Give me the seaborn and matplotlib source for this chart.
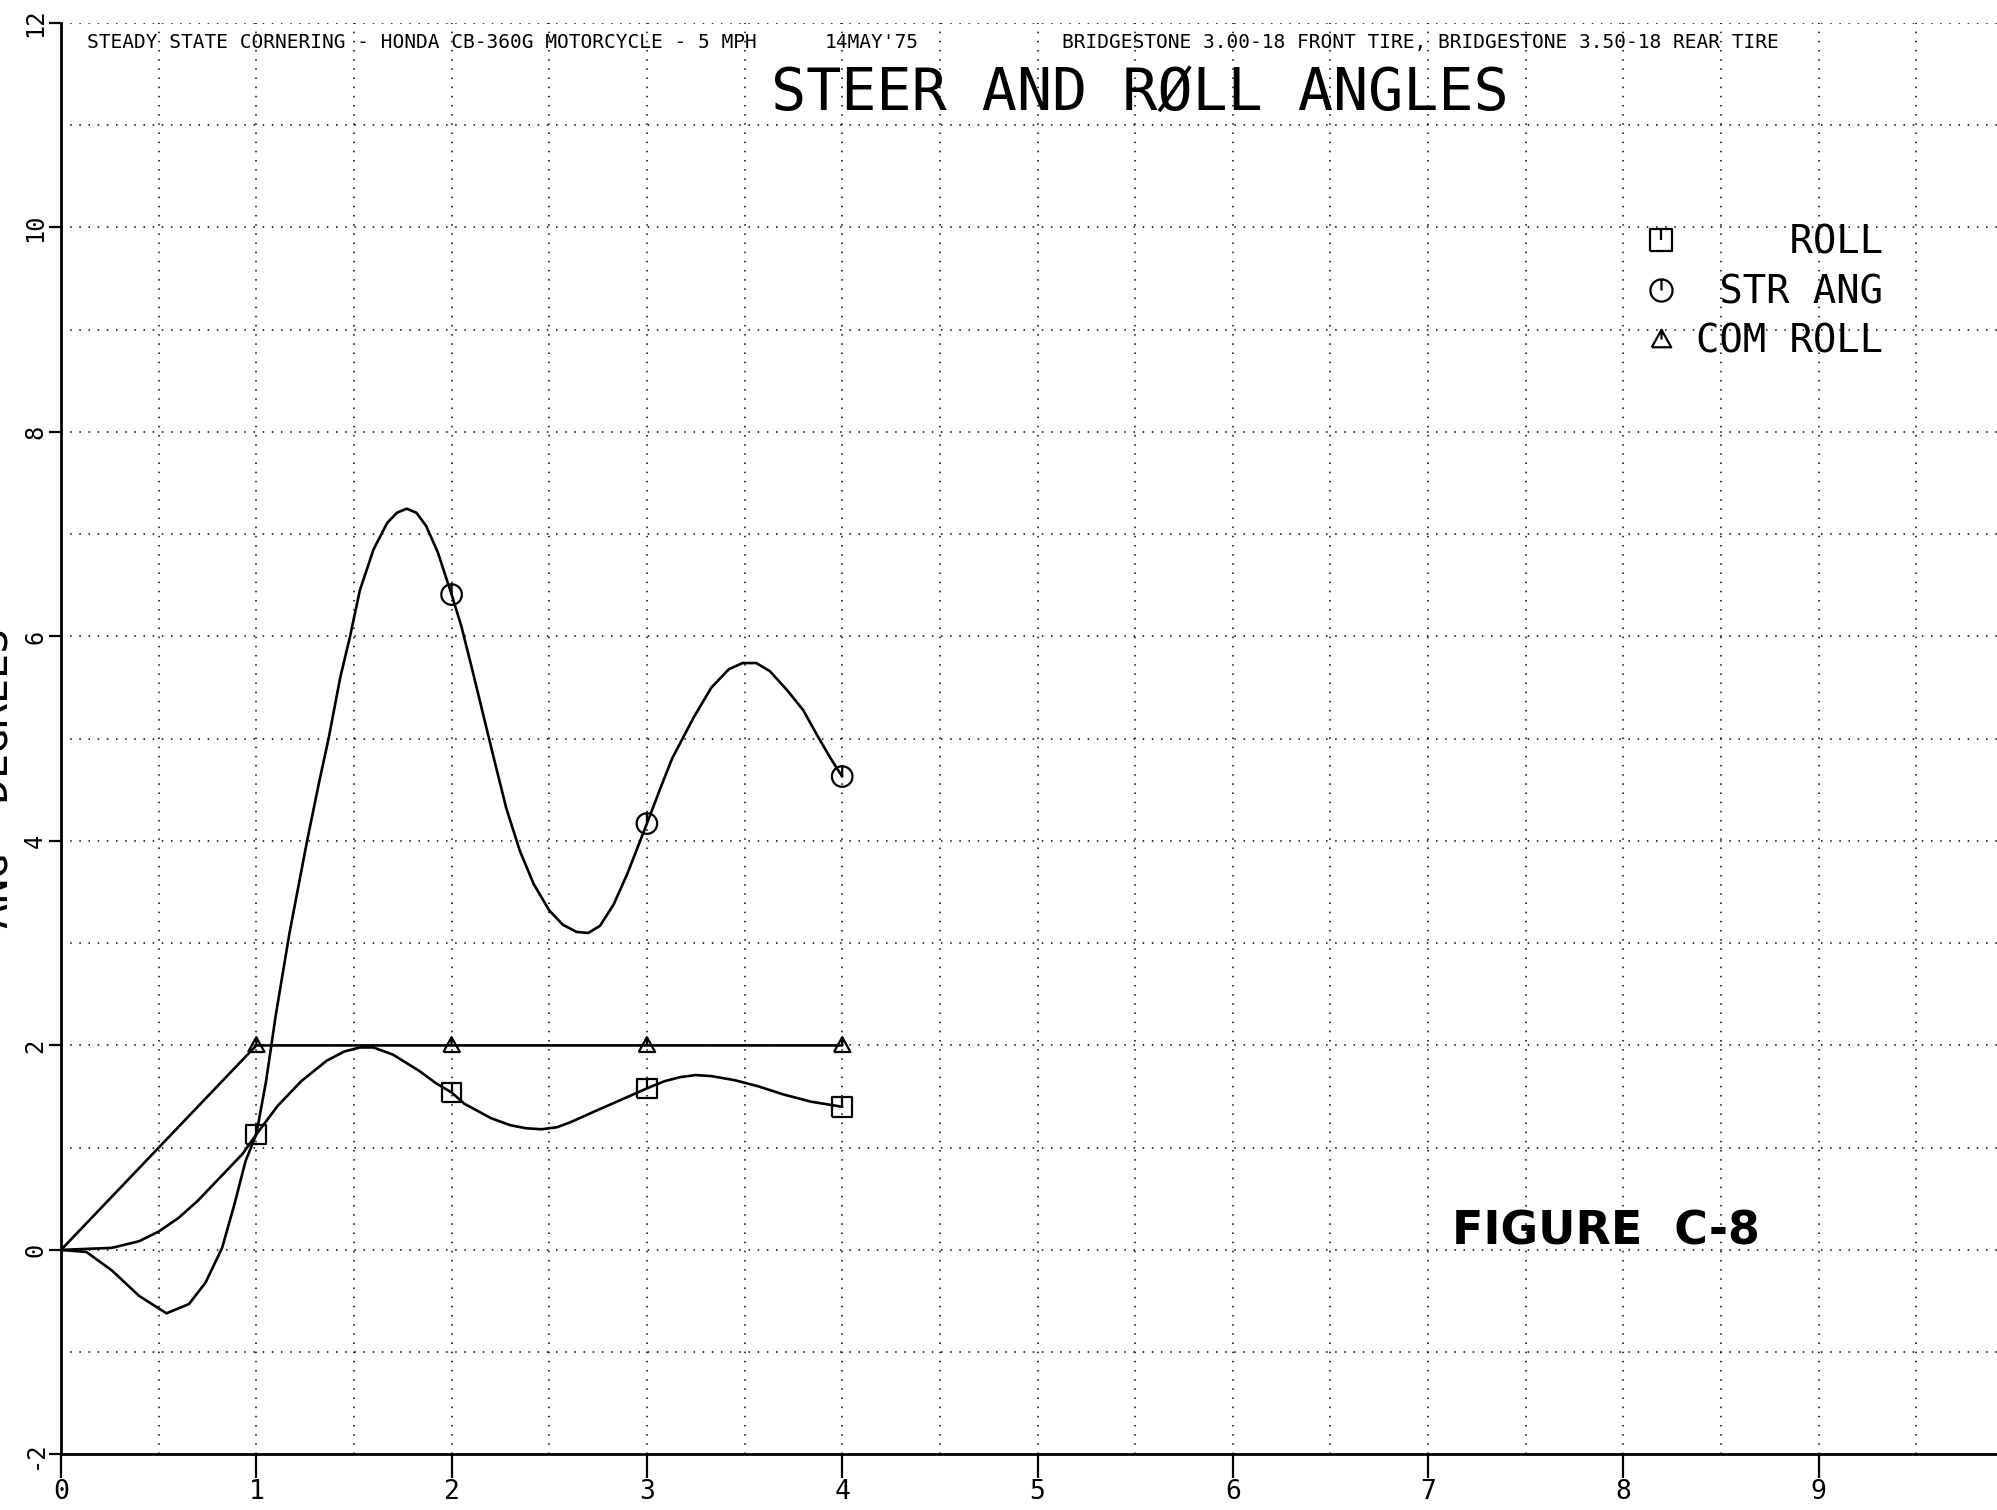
import numpy as np
import pandas as pd
import matplotlib
matplotlib.use("Agg")
import matplotlib.pyplot as plt
from matplotlib.path import Path
from matplotlib.markers import MarkerStyle
from matplotlib.lines import Line2D
import seaborn as sns

# ---------------- data ----------------
str_x = [0.00, 0.13, 0.26, 0.40, 0.54, 0.655, 0.74, 0.825, 0.89, 0.945, 1.00,
         1.05, 1.10, 1.17, 1.22, 1.26, 1.32, 1.37, 1.43, 1.48, 1.53, 1.60, 1.67,
         1.72, 1.77, 1.82, 1.87, 1.93, 2.00, 2.05, 2.10, 2.16, 2.22, 2.28, 2.35,
         2.42, 2.50, 2.57, 2.64, 2.70, 2.76, 2.83, 2.90, 3.00, 3.07, 3.13, 3.24,
         3.33, 3.42, 3.49, 3.56, 3.63, 3.72, 3.80, 3.87, 3.94, 4.00]
str_y = [0.00, -0.02, -0.20, -0.45, -0.62, -0.53, -0.32, 0.02, 0.46, 0.87, 1.13,
         1.65, 2.30, 3.10, 3.60, 4.00, 4.56, 5.00, 5.60, 6.00, 6.45, 6.85, 7.11,
         7.21, 7.25, 7.21, 7.08, 6.82, 6.41, 6.10, 5.72, 5.25, 4.78, 4.32, 3.90,
         3.58, 3.32, 3.18, 3.11, 3.10, 3.17, 3.38, 3.68, 4.17, 4.52, 4.81, 5.21,
         5.50, 5.68, 5.74, 5.74, 5.66, 5.47, 5.28, 5.04, 4.81, 4.63]

roll_x = [0.00, 0.26, 0.40, 0.50, 0.60, 0.70, 0.82, 0.93, 1.00, 1.11, 1.23, 1.36,
          1.45, 1.53, 1.60, 1.70, 1.835, 1.92, 2.00, 2.065, 2.20, 2.30, 2.38,
          2.46, 2.54, 2.61, 2.75, 2.87, 3.00, 3.09, 3.17, 3.25, 3.33, 3.45, 3.57,
          3.70, 3.84, 4.00]
roll_y = [0.00, 0.02, 0.085, 0.18, 0.31, 0.48, 0.72, 0.94, 1.13, 1.41, 1.65, 1.85,
          1.94, 1.98, 1.98, 1.91, 1.75, 1.63, 1.54, 1.43, 1.29, 1.22, 1.19,
          1.18, 1.20, 1.25, 1.37, 1.47, 1.58, 1.65, 1.69, 1.71, 1.70, 1.66, 1.60,
          1.52, 1.45, 1.40]

com_x = [0, 1, 2, 3, 4]
com_y = [0, 2, 2, 2, 2]

roll_mark_x = [1, 2, 3, 4]
roll_mark_y = [1.13, 1.54, 1.58, 1.40]
str_mark_x = [2, 3, 4]
str_mark_y = [6.41, 4.17, 4.63]
com_mark_x = [1, 2, 3, 4]
com_mark_y = [2, 2, 2, 2]

x_ticks = list(range(0, 10))
y_ticks = list(range(-2, 13, 2))
legend_labels = ["    ROLL", " STR ANG", "COM ROLL"]

header_left = "STEADY STATE CORNERING - HONDA CB-360G MOTORCYCLE - 5 MPH"
header_date = "14MAY'75"
header_right = "BRIDGESTONE 3.00-18 FRONT TIRE, BRIDGESTONE 3.50-18 REAR TIRE"
title = "STEER AND RØLL ANGLES"
y_label = "ANG  DEGREES"
figure_note = "FIGURE  C-8"

# ---------------- style ----------------
sns.set_style("ticks")
plt.rcParams["font.family"] = ["DejaVu Sans Mono", "DejaVu Sans"]
plt.rcParams["text.color"] = "black"
plt.rcParams["xtick.color"] = "black"
plt.rcParams["ytick.color"] = "black"
plt.rcParams["axes.edgecolor"] = "black"

# custom plotter-like markers (outline with a tick inside)
def compound(outline):
    verts = list(outline) + [(0.0, 1.0), (0.0, 0.0)]
    codes = [Path.MOVETO] + [Path.LINETO] * (len(outline) - 1) + [Path.MOVETO, Path.LINETO]
    return Path(verts, codes)

sq_path = compound([(-1, -1), (1, -1), (1, 1), (-1, 1), (-1, -1)])
t = np.linspace(0, 2 * np.pi, 33)
circ_path = compound([(np.cos(a), np.sin(a)) for a in t])
tri_path = Path([(-1, -0.8), (1, -0.8), (0, 1.0), (-1, -0.8), (0, 1.0), (0, 0.0)],
                [Path.MOVETO, Path.LINETO, Path.LINETO, Path.LINETO, Path.MOVETO, Path.LINETO])

fig = plt.figure(figsize=(19.97, 15.10), dpi=100)
ax = fig.add_axes([61 / 1997, 55.6 / 1510, 10 * 195.3 / 1997, 1431.4 / 1510])

# curves
line_kw = dict(color="black", linewidth=1.9, estimator=None, sort=False, legend=False)
sns.lineplot(x=com_x, y=com_y, ax=ax, **line_kw)
sns.lineplot(x=roll_x, y=roll_y, ax=ax, **line_kw)
sns.lineplot(x=str_x, y=str_y, ax=ax, **line_kw)

# markers
mk_kw = dict(color="black", facecolors="none", edgecolors="black", linewidths=1.6,
             legend=False, zorder=5)
sns.scatterplot(x=roll_mark_x, y=roll_mark_y, marker=MarkerStyle(sq_path), s=200, ax=ax, **mk_kw)
sns.scatterplot(x=str_mark_x, y=str_mark_y, marker=MarkerStyle(circ_path), s=220, ax=ax, **mk_kw)
sns.scatterplot(x=com_mark_x, y=com_mark_y, marker=MarkerStyle(tri_path), s=140, ax=ax, **mk_kw)

# axes
ax.set_xlim(0, 10)
ax.set_ylim(-2, 12)
ax.set_xticks(x_ticks)
ax.set_xticklabels([str(v) for v in x_ticks])
ax.set_yticks(y_ticks)
ax.set_yticklabels([str(v) for v in y_ticks])
ax.set_xticks(np.arange(0.5, 10.01, 0.5), minor=True)
ax.set_yticks(np.arange(-2, 12.01, 1), minor=True)
ax.grid(which="both", linestyle=(0, (1, 5)), color="black", linewidth=1.1)
ax.tick_params(which="minor", length=0)
ax.tick_params(axis="x", which="major", length=17, width=1.6, direction="out",
               pad=1, labelsize=19)
ax.tick_params(axis="y", which="major", length=9, width=1.6, direction="out",
               pad=1, labelsize=17, labelrotation=90)
for lab in ax.get_yticklabels():
    lab.set_va("center")
for side in ["top", "right"]:
    ax.spines[side].set_visible(False)
for side in ["left", "bottom"]:
    ax.spines[side].set_linewidth(2.0)
ax.set_xlabel("")
ax.set_ylabel("")

# texts
fig.text(0.0434, 0.972, header_left, fontsize=14, va="center", ha="left")
fig.text(0.413, 0.972, header_date, fontsize=14, va="center", ha="left")
fig.text(0.532, 0.972, header_right, fontsize=14, va="center", ha="left")
fig.text(0.571, 0.938, title, fontsize=42, va="center", ha="center")
fig.text(9.0 / 1997, 0.485, y_label, fontsize=30, rotation=90, rotation_mode="anchor",
         va="baseline", ha="center")
fig.text(0.727, 0.1755, figure_note, fontsize=33, fontweight="bold",
         family="DejaVu Sans", va="baseline", ha="left")

# legend
handles = [
    Line2D([], [], linestyle="none", marker=MarkerStyle(sq_path), markersize=16,
           markerfacecolor="none", markeredgecolor="black", markeredgewidth=1.6),
    Line2D([], [], linestyle="none", marker=MarkerStyle(circ_path), markersize=16,
           markerfacecolor="none", markeredgecolor="black", markeredgewidth=1.6),
    Line2D([], [], linestyle="none", marker=MarkerStyle(tri_path), markersize=14,
           markerfacecolor="none", markeredgecolor="black", markeredgewidth=1.6),
]
ax.legend(handles, legend_labels, loc="upper left", bbox_to_anchor=(0.822, 0.852),
          bbox_transform=fig.transFigure, frameon=False, fontsize=28,
          handlelength=1.0, handletextpad=0.4, labelspacing=0.3,
          borderpad=0, borderaxespad=0)

fig.savefig("out.png", dpi=100)
